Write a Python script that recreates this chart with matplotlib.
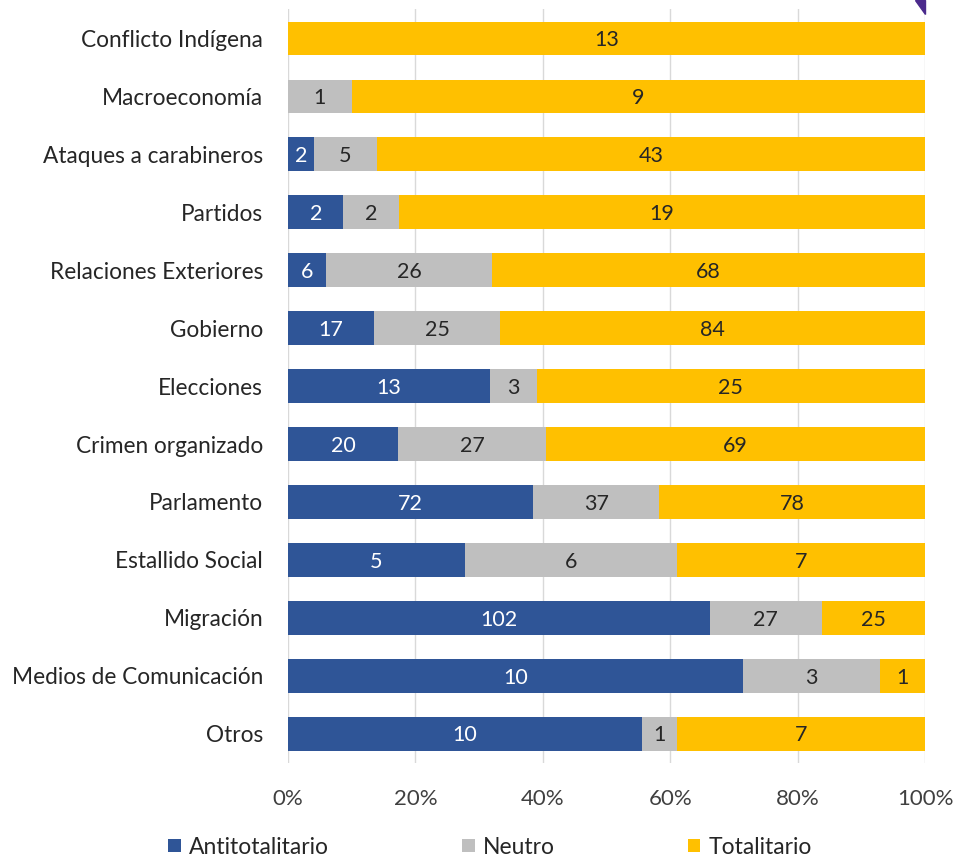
import matplotlib
matplotlib.use("Agg")
import matplotlib.pyplot as plt
from matplotlib.patches import Polygon
import numpy as np

plt.rcParams['font.family'] = ['Lato', 'DejaVu Sans']

categories = ["Conflicto Indígena", "Macroeconomía", "Ataques a carabineros", "Partidos",
              "Relaciones Exteriores", "Gobierno", "Elecciones", "Crimen organizado",
              "Parlamento", "Estallido Social", "Migración", "Medios de Comunicación", "Otros"]
antitotalitario = [0, 0, 2, 2, 6, 17, 13, 20, 72, 5, 102, 10, 10]
neutro = [0, 1, 5, 2, 26, 25, 3, 27, 37, 6, 27, 3, 1]
totalitario = [13, 9, 43, 19, 68, 84, 25, 69, 78, 7, 25, 1, 7]

series = [("Antitotalitario", antitotalitario, "#2F5597", "white"),
          ("Neutro", neutro, "#BFBFBF", "#262626"),
          ("Totalitario", totalitario, "#FFC000", "#262626")]

fig = plt.figure(figsize=(9.57, 8.56), dpi=100)
ax = fig.add_axes([0.301, 0.109, 0.6656, 0.880])

totals = np.array(antitotalitario) + np.array(neutro) + np.array(totalitario)
y = np.arange(len(categories))
left = np.zeros(len(categories))
for name, vals, color, tcolor in series:
    v = np.array(vals, dtype=float)
    frac = v / totals
    ax.barh(y, frac, left=left, height=0.58, color=color, label=name, zorder=3)
    for i, (f, val) in enumerate(zip(frac, vals)):
        if val > 0:
            ax.text(left[i] + f / 2, y[i] + 0.03, str(val), ha="center", va="center",
                    color=tcolor, fontsize=15.5, zorder=4)
    left += frac

ax.set_ylim(len(categories) - 0.5, -0.5)
ax.set_xlim(0, 1)
ax.set_yticks(y)
ax.set_yticklabels(categories, fontsize=16.3, color="#262626")
ax.set_xticks(np.linspace(0, 1, 6))
ax.set_xticklabels([f"{int(p)}%" for p in np.linspace(0, 100, 6)], fontsize=16, color="#404040")
ax.tick_params(axis="both", length=0)
ax.tick_params(axis="x", pad=19)
ax.tick_params(axis="y", pad=18)
for s in ax.spines.values():
    s.set_visible(False)
ax.grid(axis="x", color="#D9D9D9", linewidth=1, zorder=0)

leg = fig.legend(loc="lower center", bbox_to_anchor=(0.512, -0.026), ncol=3, frameon=False,
                 fontsize=16.5, handlelength=0.55, handleheight=0.55, columnspacing=5.8,
                 handletextpad=0.35)
for t in leg.get_texts():
    t.set_color("#262626")

tri = Polygon([[915 / 957, 1.0], [925 / 957, 1.0], [925 / 957, 1 - 14 / 856]],
              closed=True, transform=fig.transFigure, color="#4B2A8C")
fig.patches.append(tri)

fig.savefig("out.png", dpi=100)
